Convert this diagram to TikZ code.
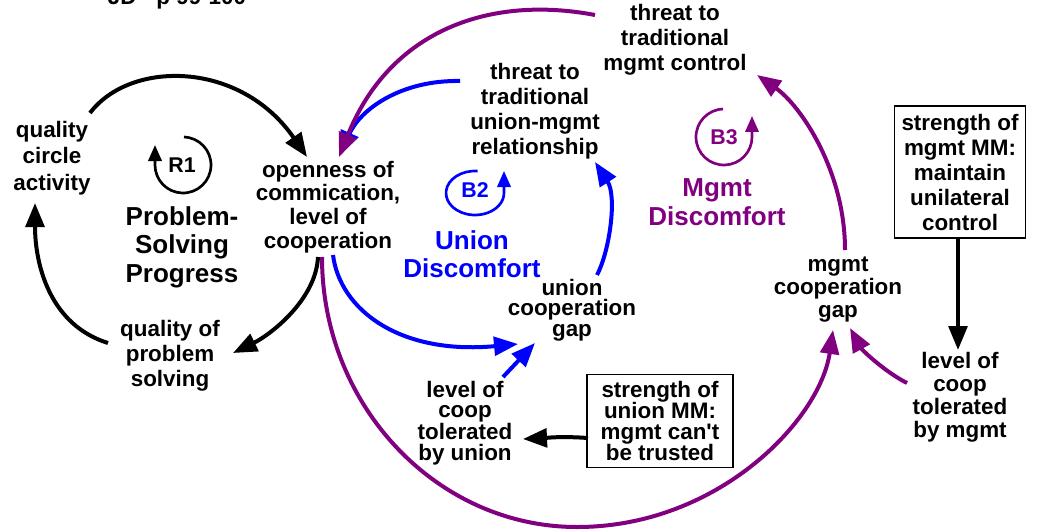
\documentclass[tikz,border=0pt]{standalone}
\usepackage{fontspec}
\setmainfont{Liberation Sans}[Ligatures=TeXOff]
\usetikzlibrary{arrows.meta,calc}
\definecolor{ublue}{RGB}{0,0,255}
\definecolor{mpurple}{RGB}{128,0,128}
\begin{document}
\begin{tikzpicture}[x=0.75pt,y=-0.75pt,
  lbl/.style={align=center,inner sep=0pt,font=\bfseries\fontsize{16.8}{#1}\selectfont},
  lbl/.default=18.75,
  big/.style={align=center,inner sep=0pt,font=\bfseries\fontsize{19.5}{21.4}\selectfont},
  box/.style={draw,line width=1.1pt,align=center,inner sep=0pt,font=\bfseries\fontsize{16.8}{#1}\selectfont},
  looplbl/.style={inner sep=0pt,font=\bfseries\fontsize{16}{18}\selectfont},
  conn/.style={line width=3pt,-{Triangle[length=18pt,width=14pt]}},
  loopar/.style={line width=2pt,-{Triangle[length=12pt,width=10pt]}}
]
\useasboundingbox (0,0) rectangle (1044,531);

% title (cut at top)
\node[lbl,anchor=base] (title) at (177,5) {JD - p 99-100};

% variables
\node[lbl=20] (qca) at (52,158) {quality\\circle\\activity};
\node[lbl=17.7] (open) at (328,207) {openness of\\commication,\\level of\\cooperation};
\node[lbl=18.75] (qps) at (170,356) {quality of\\problem\\solving};
\node[lbl=18.75] (tu) at (535,111) {threat to\\traditional\\union-mgmt\\relationship};
\node[lbl=18.75] (tm) at (675,40) {threat to\\traditional\\mgmt control};
\node[lbl=15.5] (ucg) at (572,310) {union\\cooperation\\gap};
\node[lbl=17.25] (mcg) at (838,290) {mgmt\\cooperation\\gap};
\node[lbl=17.25] (lm) at (960,397) {level of\\coop\\tolerated\\by mgmt};
\node[lbl=15.5] (lu) at (465,423) {level of\\coop\\tolerated\\by union};
\node[box=18.75,minimum width=98pt,minimum height=99pt] (bm) at (960,172) {strength of\\mgmt MM:\\maintain\\unilateral\\control};
\node[box=15.75,minimum width=109.5pt,minimum height=70pt] (bu) at (660,421) {strength of\\union MM:\\mgmt can't\\be trusted};

% loop names
\node[big] (psp) at (182,247) {Problem-\\Solving\\Progress};
\node[big,text=ublue] (ud) at (472,254) {Union\\Discomfort};
\node[big,text=mpurple] (md) at (717,202) {Mgmt\\Discomfort};

% loop symbols
\node[looplbl] (r1) at (182,165) {R1};
\coordinate (r1c) at (183,165);
\draw[loopar] ([shift={(-88:28)}]r1c) arc[start angle=-88,end angle=180,radius=28] -- ++(0,-20);

\node[looplbl,text=ublue] (b2) at (475,190) {B2};
\coordinate (b2c) at (475,193);
\draw[loopar,ublue] ([shift={(-85:29 and 22)}]b2c) arc[start angle=-85,end angle=-360,x radius=29,y radius=22] -- ++(0,-22);

\node[looplbl,text=mpurple] (b3) at (724,137) {B3};
\coordinate (b3c) at (724,137);
\draw[loopar,mpurple] ([shift={(-92:28)}]b3c) arc[start angle=-92,end angle=-360,radius=28] -- ++(0,-21);

% black connectors
\draw[conn] ([shift={(38,-45)}]qca.center) .. controls (130,60) and (240,60) .. ([shift={(-21,-50)}]open.center);
\draw[conn] ([shift={(-10,50)}]open.center) .. controls (316,300) and (270,335) .. ([shift={(63,-3)}]qps.center);
\draw[conn] ([shift={(-62,-13)}]qps.center) .. controls (50,325) and (35,265) .. ([shift={(-17,45)}]qca.center);
\draw[conn] ([shift={(-2,66)}]bm.center) -- ([shift={(-2,-47)}]lm.center);
\draw[conn] ([shift={(-72,17)}]bu.center) .. controls (560,436) and (545,438) .. ([shift={(58,16)}]lu.center);

% blue connectors
\draw[conn,ublue] ([shift={(5,48)}]open.center) .. controls (340,310) and (400,355) .. ([shift={(-54,34)}]ucg.center);
\draw[conn,ublue] ([shift={(38,-46)}]lu.center) -- ([shift={(-37,33)}]ucg.center);
\draw[conn,ublue] ([shift={(25,-35)}]ucg.center) .. controls (610,250) and (617,196) .. ([shift={(60,51)}]tu.center);
\draw[conn,ublue] ([shift={(-75,-30)}]tu.center) .. controls (400,80) and (360,110) .. ([shift={(12,-52)}]open.center);

% purple connectors
\draw[conn,mpurple] ([shift={(-80,-25)}]tm.center) .. controls (490,-5) and (390,30) .. ([shift={(11,-50)}]open.center);
\draw[conn,mpurple] ([shift={(-6,50)}]open.center) .. controls (322,406) and (437,527) .. (577,527) .. controls (718,527) and (820,420) .. ([shift={(-5,40)}]mcg.center);
\draw[conn,mpurple] ([shift={(7,-40)}]mcg.center) .. controls (845,170) and (800,105) .. ([shift={(82,35)}]tm.center);
\draw[conn,mpurple] ([shift={(-53,-14)}]lm.center) .. controls (885,372) and (862,350) .. ([shift={(12,38)}]mcg.center);
\end{tikzpicture}
\end{document}
